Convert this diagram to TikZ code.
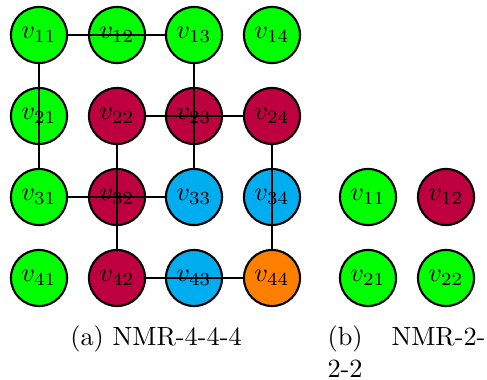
\documentclass[tikz,border=0pt]{standalone}
\usepackage{xcolor}
\definecolor{vgreen}{RGB}{0,255,0}
\definecolor{vred}{RGB}{191,0,64}
\definecolor{vblue}{RGB}{0,174,239}
\definecolor{vorange}{RGB}{255,128,0}
\begin{document}
\begin{tikzpicture}[x=0.38pt,y=-0.38pt,
  vert/.style={circle,draw,thick,minimum size=21.3pt,inner sep=0pt},
  gv/.style={vert,fill=vgreen},
  rv/.style={vert,fill=vred},
  bv/.style={vert,fill=vblue},
  ov/.style={vert,fill=vorange},
  link/.style={thick}]
\useasboundingbox (0,0) rectangle (487,380);
% 4x4 grid
\node[gv] (v11) at (39,35)  {$v_{11}$};
\node[gv] (v12) at (117,35) {$v_{12}$};
\node[gv] (v13) at (194,35) {$v_{13}$};
\node[gv] (v14) at (272,35) {$v_{14}$};
\node[gv] (v21) at (39,116)  {$v_{21}$};
\node[rv] (v22) at (117,116) {$v_{22}$};
\node[rv] (v23) at (194,116) {$v_{23}$};
\node[rv] (v24) at (272,116) {$v_{24}$};
\node[gv] (v31) at (39,197)  {$v_{31}$};
\node[rv] (v32) at (117,197) {$v_{32}$};
\node[bv] (v33) at (194,197) {$v_{33}$};
\node[bv] (v34) at (272,197) {$v_{34}$};
\node[gv] (v41) at (39,278)  {$v_{41}$};
\node[rv] (v42) at (117,278) {$v_{42}$};
\node[bv] (v43) at (194,278) {$v_{43}$};
\node[ov] (v44) at (272,278) {$v_{44}$};
% links drawn over the vertices they pass
\draw[link] (v11) -- (v13);
\draw[link] (v11) -- (v31);
\draw[link] (v13) -- (v33);
\draw[link] (v22) -- (v24);
\draw[link] (v22) -- (v42);
\draw[link] (v31) -- (v33);
\draw[link] (v24) -- (v44);
\draw[link] (v42) -- (v44);
% 2x2 grid
\node[gv] (w11) at (368,197) {$v_{11}$};
\node[rv] (w12) at (446,197) {$v_{12}$};
\node[gv] (w21) at (368,278) {$v_{21}$};
\node[gv] (w22) at (446,278) {$v_{22}$};
% captions
\node[anchor=base,inner sep=0pt] (capa) at (156,345) {(a) NMR-4-4-4};
\node[anchor=base west,inner sep=0pt] (capb) at (327,345) {(b)};
\node[anchor=base east,inner sep=0pt] (capbb) at (486,345) {NMR-2-};
\node[anchor=base west,inner sep=0pt] (capbc) at (327,377) {2-2};
\end{tikzpicture}
\end{document}
